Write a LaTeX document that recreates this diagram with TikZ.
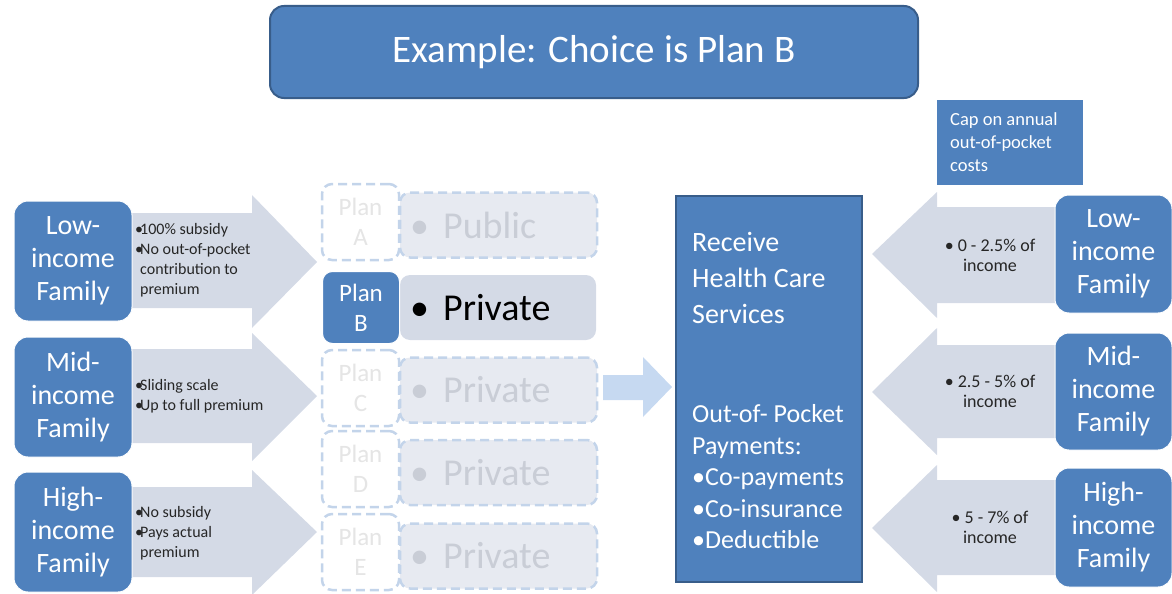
\documentclass[tikz,border=0pt]{standalone}
\usepackage{fontspec}
\setmainfont{Carlito}
\definecolor{mainblue}{HTML}{4F81BD}
\definecolor{darkblue}{HTML}{385D8A}
\definecolor{arrowgrey}{HTML}{D4DAE6}
\definecolor{faintbar}{HTML}{E7EAF1}
\definecolor{faintline}{HTML}{C3D4EA}
\definecolor{fainttext}{HTML}{C9CDD6}
\definecolor{smallarrow}{HTML}{C6D9F1}
\newcommand\bul{\makebox[5pt][l]{•}}
\begin{document}
\begin{tikzpicture}[x=1pt,y=-1pt,
  fam/.style={draw=white, line width=1pt, fill=mainblue, rounded corners=14pt,
    minimum width=118pt, minimum height=120pt, text=white, align=center,
    font=\fontsize{28}{33}\selectfont, inner sep=0pt},
  bigarrow/.style={fill=arrowgrey},
  smalltext/.style={align=left, inner sep=0pt, font=\fontsize{16}{20}\selectfont, text=black!85},
  righttext/.style={align=center, inner sep=0pt, font=\fontsize{18}{20}\selectfont, text=black!85},
  planbox/.style={draw=faintline, line width=2.5pt, dash pattern=on 9pt off 5pt, fill=white,
    rounded corners=10pt, minimum width=77pt, minimum height=76pt, inner sep=0pt,
    text=black!10, align=center, font=\fontsize{25}{30}\selectfont},
  chosenplan/.style={draw=white, line width=1pt, fill=mainblue, rounded corners=10pt,
    minimum width=77pt, minimum height=72pt, inner sep=0pt,
    text=white, align=center, font=\fontsize{25}{30}\selectfont},
  faintbarbox/.style={draw=faintline, line width=2.5pt, dash pattern=on 9pt off 5pt, fill=faintbar,
    rounded corners=10pt, minimum width=197pt, minimum height=65pt, inner sep=0pt},
  chosenbar/.style={fill=arrowgrey, rounded corners=10pt, minimum width=196pt, minimum height=65pt, inner sep=0pt},
  bartext/.style={anchor=west, inner sep=0pt, font=\fontsize{38}{40}\selectfont}
]
\useasboundingbox (0,0) rectangle (1172,594);

% title
\node[draw=darkblue, line width=2pt, fill=mainblue, rounded corners=14pt,
  minimum width=648pt, minimum height=92pt, text=white,
  font=\fontsize{39}{42}\selectfont] (title) at (594,52) {Example: Choice is Plan B};

% left arrows
\fill[bigarrow] (125,213) -- (252,213) -- (252,195) -- (317,262) -- (252,328) -- (252,308) -- (125,308) -- cycle;
\fill[bigarrow] (125,349) -- (252,349) -- (252,333) -- (317,396) -- (252,461) -- (252,443) -- (125,443) -- cycle;
\fill[bigarrow] (125,487) -- (252,487) -- (252,470) -- (317,532) -- (252,595) -- (252,577) -- (125,577) -- cycle;

% left families
\node[fam] (lowL) at (73,261) {Low-\\income\\Family};
\node[fam] (midL) at (73,397) {Mid-\\income\\Family};
\node[fam] (highL) at (73,532) {High-\\income\\Family};

% left arrow texts
\node[smalltext, anchor=west] (subL) at (135,260) {\bul 100\% subsidy\\\bul No out-of-pocket\\\hspace*{5pt}contribution to\\\hspace*{5pt}premium};
\node[smalltext, anchor=west] (subM) at (135,396) {\bul Sliding scale\\\bul Up to full premium};
\node[smalltext, anchor=west] (subH) at (135,533) {\bul No subsidy\\\bul Pays actual\\\hspace*{5pt}premium};

% plan bars
\node[faintbarbox] (barA) at (498.5,225) {};
\node[chosenbar] (barB) at (498,307.5) {};
\node[faintbarbox] (barC) at (498.5,390) {};
\node[faintbarbox] (barD) at (498.5,472.5) {};
\node[faintbarbox] (barE) at (498.5,556) {};
\node[bartext, text=fainttext] (txA) at (410,225) {•\hspace{14pt}Public};
\node[bartext, text=black] (txB) at (410,307.5) {•\hspace{14pt}Private};
\node[bartext, text=fainttext] (txC) at (410,390) {•\hspace{14pt}Private};
\node[bartext, text=fainttext] (txD) at (410,472.5) {•\hspace{14pt}Private};
\node[bartext, text=fainttext] (txE) at (410,556) {•\hspace{14pt}Private};

% plan boxes
\node[planbox] (planA) at (360.5,222) {Plan\\A};
\node[chosenplan] (planB) at (361,307.5) {Plan\\B};
\node[planbox] (planC) at (360.5,388) {Plan\\C};
\node[planbox] (planD) at (360.5,469) {Plan\\D};
\node[planbox] (planE) at (360.5,552) {Plan\\E};

% small arrow
\fill[smallarrow] (603,375) -- (643,375) -- (643,357) -- (672,387) -- (643,417) -- (643,400) -- (603,400) -- cycle;

% center box
\node[draw=darkblue, line width=2pt, fill=mainblue, minimum width=186pt, minimum height=386pt, inner sep=0pt] (center) at (769,389) {};
\node[anchor=west, align=left, inner sep=0pt, text=white, font=\fontsize{28}{36}\selectfont] (recv) at (692,278) {Receive\\Health Care\\Services};
\node[anchor=west, align=left, inner sep=0pt, text=white, font=\fontsize{26}{31.5}\selectfont] (oop) at (692,477) {Out-of- Pocket\\Payments:\\•Co-payments\\•Co-insurance\\•Deductible};

% right arrows
\fill[bigarrow] (1065,207) -- (937,207) -- (937,192) -- (872,254) -- (937,318) -- (937,303) -- (1065,303) -- cycle;
\fill[bigarrow] (1065,345) -- (937,345) -- (937,328) -- (872,392) -- (937,455) -- (937,438) -- (1065,438) -- cycle;
\fill[bigarrow] (1065,480) -- (937,480) -- (937,465) -- (872,528) -- (937,592) -- (937,575) -- (1065,575) -- cycle;

% cap box
\node[fill=mainblue, minimum width=146pt, minimum height=85pt, inner sep=0pt] (cap) at (1010,142.5) {};
\node[anchor=west, align=left, inner sep=0pt, text=white, font=\fontsize{18.5}{23}\selectfont] (captext) at (950,142) {Cap on annual\\out-of-pocket\\costs};

% right families
\node[fam, minimum width=117pt, minimum height=118pt] (lowR) at (1113.5,254) {Low-\\income\\Family};
\node[fam, minimum width=117pt, minimum height=117pt] (midR) at (1113.5,391.5) {Mid-\\income\\Family};
\node[fam, minimum width=117pt, minimum height=119pt] (highR) at (1113.5,527.5) {High-\\income\\Family};

% right arrow texts
\node[righttext] (capL) at (990,255) {• 0 - 2.5\% of\\income};
\node[righttext] (capM) at (990,391) {• 2.5 - 5\% of\\income};
\node[righttext] (capH) at (990,527) {• 5 - 7\% of\\income};
\end{tikzpicture}
\end{document}
